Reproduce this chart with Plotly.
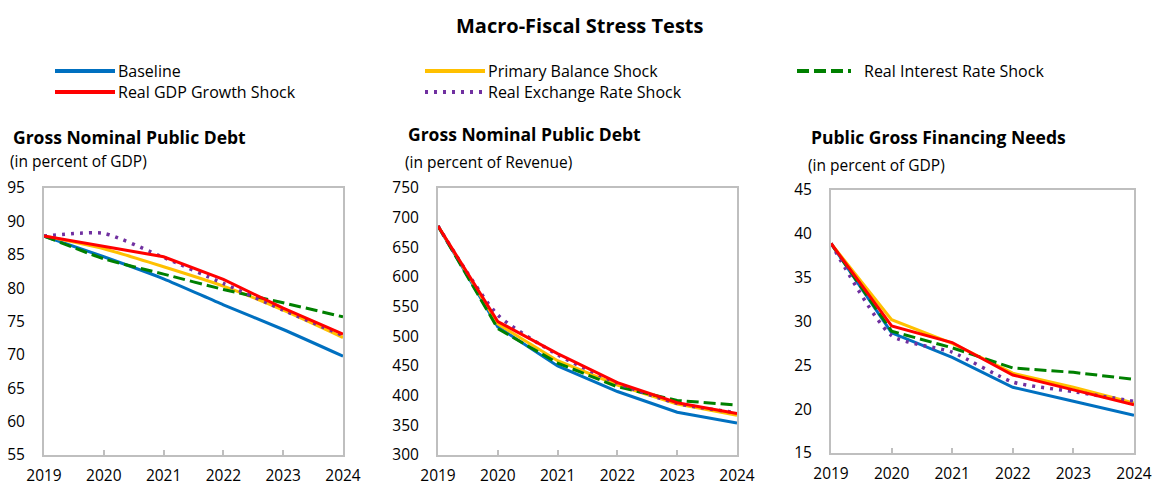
import plotly.graph_objects as go

W, H = 1156, 487
FONT = "Open Sans"

years = [2019, 2020, 2021, 2022, 2023, 2024]

series_names = [
    "Baseline",
    "Primary Balance Shock",
    "Real Interest Rate Shock",
    "Real GDP Growth Shock",
    "Real Exchange Rate Shock",
]

# Gross nominal public debt, percent of GDP
debt_gdp_baseline = [87.8, 84.7, 81.4, 77.5, 73.8, 69.8]
debt_gdp_primary = [87.8, 85.9, 83.2, 80.3, 76.7, 72.6]
debt_gdp_interest = [87.8, 84.4, 82.1, 79.8, 77.8, 75.7]
debt_gdp_growth = [87.8, 86.2, 84.7, 81.3, 77.0, 73.1]
debt_gdp_exchange = [87.8, 88.2, 84.6, 80.7, 76.7, 72.9]

# Gross nominal public debt, percent of revenue
debt_rev_baseline = [686, 516, 450, 407, 372, 354]
debt_rev_primary = [686, 521, 459, 418, 386, 367]
debt_rev_interest = [686, 513, 455, 415, 392, 384]
debt_rev_growth = [686, 525, 471, 422, 388, 370]
debt_rev_exchange = [686, 536, 469, 421, 387, 371]

# Public gross financing needs, percent of GDP
gfn_baseline = [38.9, 28.7, 25.9, 22.5, 20.9, 19.3]
gfn_primary = [38.9, 30.2, 27.5, 24.1, 22.5, 20.7]
gfn_interest = [38.9, 28.9, 27.0, 24.7, 24.2, 23.4]
gfn_growth = [38.9, 29.5, 27.6, 23.9, 22.2, 20.5]
gfn_exchange = [38.9, 28.4, 26.5, 23.1, 22.0, 20.9]

panel_titles = ["Gross Nominal Public Debt", "Gross Nominal Public Debt", "Public Gross Financing Needs"]
panel_units = ["(in percent of GDP)", "(in percent of Revenue)", "(in percent of GDP)"]
y_ranges = [(55, 95), (300, 750), (15, 45)]
y_dticks = [5, 50, 5]

panels = [
    [debt_gdp_baseline, debt_gdp_primary, debt_gdp_interest, debt_gdp_growth, debt_gdp_exchange],
    [debt_rev_baseline, debt_rev_primary, debt_rev_interest, debt_rev_growth, debt_rev_exchange],
    [gfn_baseline, gfn_primary, gfn_interest, gfn_growth, gfn_exchange],
]

styles = {
    "Baseline": dict(color="#0070C0", dash="solid", width=3),
    "Primary Balance Shock": dict(color="#FFC000", dash="solid", width=3),
    "Real Interest Rate Shock": dict(color="#008000", dash="12px,5px", width=3),
    "Real GDP Growth Shock": dict(color="#FF0000", dash="solid", width=3),
    "Real Exchange Rate Shock": dict(color="#7030A0", dash="3px,6px", width=3.5),
}

# plot-area pixel boxes (left, right, top, bottom)
boxes = [(44, 343, 188, 455), (438, 737, 188, 455), (831, 1134, 190, 453)]


def px(x):
    return x / W


def py(y):
    return 1 - y / H


fig = go.Figure()

# draw order: baseline, primary, interest, exchange, growth on top
draw_order = [0, 1, 2, 4, 3]
for p, data in enumerate(panels):
    ax = "" if p == 0 else str(p + 1)
    for i in draw_order:
        name = series_names[i]
        st = styles[name]
        smooth = (p == 0 and name != "Real GDP Growth Shock") or name == "Real Exchange Rate Shock"
        fig.add_trace(go.Scatter(
            x=years, y=data[i], name=name, mode="lines",
            line=dict(color=st["color"], dash=st["dash"], width=st["width"],
                      shape="spline" if smooth else "linear", smoothing=0.6),
            xaxis="x" + ax, yaxis="y" + ax, showlegend=False,
        ))

axis_common = dict(showline=True, mirror=True, linecolor="#BFBFBF", linewidth=2,
                   showgrid=False, zeroline=False, automargin=False,
                   tickfont=dict(family=FONT, size=15.5, color="#000000"))

layout = dict(
    width=W, height=H, margin=dict(l=0, r=0, t=0, b=0, autoexpand=False),
    paper_bgcolor="white", plot_bgcolor="white", showlegend=False,
    font=dict(family=FONT, color="#000000"),
)
for p, (l, r, t, b) in enumerate(boxes):
    sfx = "" if p == 0 else str(p + 1)
    layout["xaxis" + sfx] = dict(
        axis_common, domain=[px(l), px(r)], range=[2019, 2024], tickmode="array",
        tickvals=years, ticktext=[str(y) for y in years], ticks="inside", ticklen=5,
        tickcolor="#BFBFBF", tickwidth=2, anchor="y" + sfx, fixedrange=True,
        ticklabelstandoff=5,
    )
    layout["yaxis" + sfx] = dict(
        axis_common, domain=[py(b), py(t)], range=list(y_ranges[p]), dtick=y_dticks[p],
        tick0=y_ranges[p][0], ticks="", anchor="x" + sfx, ticklabelstandoff=14,
    )
fig.update_layout(**layout)

annotations = [
    dict(text="<b>Macro-Fiscal Stress Tests</b>", x=px(580), y=py(25), xanchor="center",
         yanchor="middle", font=dict(size=20)),
]
title_pos = [(11, 137, 8, 161), (406, 134, 403, 162), (809, 137, 806, 165)]
for p, (tx, ty, sx, sy) in enumerate(title_pos):
    annotations.append(dict(text="<b>" + panel_titles[p] + "</b>", x=px(tx), y=py(ty),
                            xanchor="left", yanchor="middle", font=dict(size=17.5)))
    annotations.append(dict(text=panel_units[p], x=px(sx), y=py(sy),
                            xanchor="left", yanchor="middle", font=dict(size=15.5)))

# legend: sample line + label, laid out in three columns
legend_slots = {
    "Baseline": (55, 71, 118),
    "Real GDP Growth Shock": (55, 92, 118),
    "Primary Balance Shock": (425, 71, 488),
    "Real Exchange Rate Shock": (425, 92, 488),
    "Real Interest Rate Shock": (797, 71, 864),
}
shapes = []
for name, (x0, yy, tx) in legend_slots.items():
    st = styles[name]
    x1 = x0 + 60 if tx - x0 < 66 else x0 + 54
    shapes.append(dict(type="line", xref="paper", yref="paper", x0=px(x0), x1=px(x1),
                       y0=py(yy), y1=py(yy),
                       line=dict(color=st["color"], dash=st["dash"], width=4)))
    annotations.append(dict(text=name, x=px(tx - 2), y=py(yy), xanchor="left", yanchor="middle",
                            font=dict(size=16)))

for a in annotations:
    a.update(xref="paper", yref="paper", showarrow=False)
fig.update_layout(annotations=annotations, shapes=shapes)

fig.write_html("out.html")
